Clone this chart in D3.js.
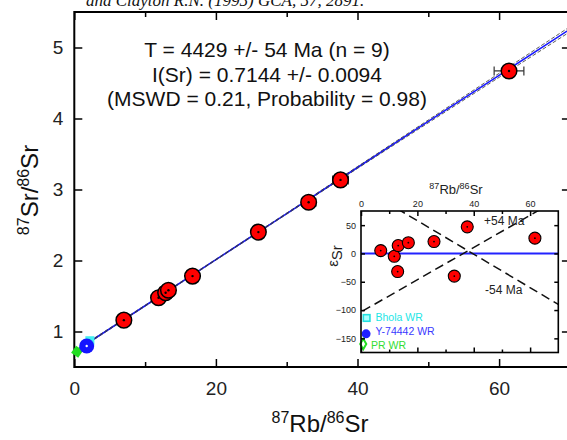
<!DOCTYPE html>
<html><head><meta charset="utf-8">
<script src="https://cdn.jsdelivr.net/npm/d3@7"></script>
<style>
body{margin:0;background:#fff}
svg{display:block;font-family:Arial,"Liberation Sans",sans-serif}
</style>
</head><body>
<svg id="c" width="567" height="440"></svg>
<script>
// ---------- data ----------
const citation = "and Clayton R.N. (1995) GCA, 57, 2891.";
const annotationLines = ["T = 4429 +/- 54 Ma (n = 9)", "I(Sr) = 0.7144 +/- 0.0094", "(MSWD = 0.21, Probability = 0.98)"];

const sampleRbSr = [7.0, 11.9, 12.9, 13.3, 16.7, 26.0, 33.1, 37.6, 61.4];
const sampleSrSr = [1.16, 1.476, 1.545, 1.58, 1.78, 2.40, 2.82, 3.135, 4.67];
const sampleRbErr = [0.3, 0.4, 0.4, 0.4, 0.5, 0.8, 1.0, 1.1, 2.1];

const insetRbSr = [7.0, 11.8, 13.0, 13.2, 16.8, 25.9, 33.1, 37.7, 61.7];
const insetEps = [5, -5, -32, 14, 19, 21, -40, 47, 27];

const wrNames = ["Bhola WR", "Y-74442 WR", "PR WR"];
const wrRbSr = [2.2, 1.75, 0.4];
const wrSrSr = [0.87, 0.795, 0.716];
const wrInsetRbSr = [2.0, 1.8, 0.8];
const wrEps = [-114, -142, -160];

const isoX = [0, 10, 20, 30, 40, 50, 60, 70];
const isoY = [0.7144, 1.3633, 2.0122, 2.6611, 3.3100, 3.9589, 4.6078, 5.2567];
const isoUpper = [0.724, 1.370, 2.018, 2.669, 3.323, 3.979, 4.636, 5.293];
const isoLower = [0.705, 1.356, 2.006, 2.653, 3.297, 3.939, 4.580, 5.221];

const refLabels = ["+54 Ma", "-54 Ma"];
const refPlusX = [0.5, 70], refPlusEps = [-102, 96];
const refMinusX = [0, 70], refMinusEps = [117, -90];

const mainXTicks = [0, 20, 40, 60], mainXMinor = [10, 30, 50];
const mainYTicks = [1, 2, 3, 4, 5];
const insetXTicks = [0, 20, 40, 60], insetXMinor = [10, 30, 50];
const insetYTicks = [50, 0, -50, -100, -150];

// ---------- drawing ----------
const svg = d3.select("#c");
svg.append("rect").attr("width", 567).attr("height", 440).attr("fill", "#fff");

const x = d3.scaleLinear().domain([0, 70]).range([74.3, 569.9]);
const y = d3.scaleLinear().domain([0.5, 5.5]).range([367, 12]);

// citation (cut at top, as in the reference)
svg.append("text").attr("x", 86).attr("y", 6)
  .attr("font-family", "'Liberation Serif','DejaVu Serif',serif").attr("font-style", "italic")
  .attr("font-size", 17).attr("fill", "#111").text(citation);

svg.append("defs").append("clipPath").attr("id", "mainclip")
  .append("rect").attr("x", x(0)).attr("y", y(5.5)).attr("width", x(70) - x(0)).attr("height", y(0.5) - y(5.5));

function styleAxis(g, fs) {
  g.select(".domain").remove();
  g.selectAll(".tick line").attr("stroke", "#000").attr("stroke-width", 1.5);
  g.selectAll("text").attr("font-size", fs).attr("font-family", "Arial,'Liberation Sans',sans-serif").attr("fill", "#222");
}
const fmt = d3.format("d");
svg.append("g").attr("transform", `translate(0,${y(0.5)})`)
  .call(d3.axisBottom(x).tickValues(mainXTicks).tickSize(-8).tickPadding(15).tickFormat(fmt)).call(g => styleAxis(g, 19));
svg.append("g").attr("transform", `translate(0,${y(0.5)})`)
  .call(d3.axisBottom(x).tickValues(mainXMinor).tickSize(-5).tickFormat("")).call(g => styleAxis(g, 19));
svg.append("g").attr("transform", `translate(0,${y(5.5)})`)
  .call(d3.axisTop(x).tickValues(mainXTicks).tickSize(-8).tickFormat("")).call(g => styleAxis(g, 19));
svg.append("g").attr("transform", `translate(0,${y(5.5)})`)
  .call(d3.axisTop(x).tickValues(mainXMinor).tickSize(-5).tickFormat("")).call(g => styleAxis(g, 19));
svg.append("g").attr("transform", `translate(${x(0)},0)`)
  .call(d3.axisLeft(y).tickValues(mainYTicks).tickSize(-8).tickPadding(11).tickFormat(fmt)).call(g => styleAxis(g, 19));
svg.append("g").attr("transform", `translate(${x(70)},0)`)
  .call(d3.axisRight(y).tickValues(mainYTicks).tickSize(-8).tickFormat("")).call(g => styleAxis(g, 19));

svg.append("rect").attr("x", x(0)).attr("y", y(5.5)).attr("width", x(70) - x(0)).attr("height", y(0.5) - y(5.5))
  .attr("fill", "none").attr("stroke", "#000").attr("stroke-width", 2);

// axis titles
const xt = svg.append("text").attr("x", 320).attr("y", 432).attr("text-anchor", "middle").attr("font-size", 24).attr("fill", "#111");
xt.append("tspan").attr("font-size", 16).attr("dy", -9).text("87");
xt.append("tspan").attr("dy", 9).text("Rb/");
xt.append("tspan").attr("font-size", 16).attr("dy", -9).text("86");
xt.append("tspan").attr("dy", 9).text("Sr");

const yt = svg.append("text").attr("transform", "translate(38,190) rotate(-90)").attr("text-anchor", "middle").attr("font-size", 24).attr("fill", "#111");
yt.append("tspan").attr("font-size", 16).attr("dy", -9).text("87");
yt.append("tspan").attr("dy", 9).text("Sr/");
yt.append("tspan").attr("font-size", 16).attr("dy", -9).text("86");
yt.append("tspan").attr("dy", 9).text("Sr");

// isochron
const main = svg.append("g").attr("clip-path", "url(#mainclip)");
const lineGen = (ys) => d3.line().x((d, i) => x(isoX[i])).y((d, i) => y(ys[i]))(isoX);
main.append("path").attr("d", lineGen(isoY)).attr("fill", "none").attr("stroke", "#1a1aff").attr("stroke-width", 1.6);
[isoUpper, isoLower].forEach(arr => {
  main.append("path").attr("d", lineGen(arr)).attr("fill", "none").attr("stroke", "#333")
    .attr("stroke-width", 1).attr("stroke-dasharray", "4,2").attr("opacity", 0.8);
});

// WR points (main, not clipped: they straddle the axis in the reference)
const wrg = svg.append("g");
wrg.append("rect").attr("x", x(wrRbSr[0]) - 4.5).attr("y", y(wrSrSr[0]) - 4.5).attr("width", 9).attr("height", 9).attr("fill", "#44f0f0");
wrg.append("path").attr("d", d3.symbol(d3.symbolSquare, 75)())
  .attr("transform", `translate(${x(wrRbSr[2])},${y(wrSrSr[2])}) rotate(35)`).attr("fill", "#22dd22");
wrg.append("circle").attr("cx", x(wrRbSr[1])).attr("cy", y(wrSrSr[1])).attr("r", 7.5).attr("fill", "#1414ff");
wrg.append("circle").attr("cx", x(wrRbSr[1])).attr("cy", y(wrSrSr[1])).attr("r", 1.2).attr("fill", "#fff");

// error bars + samples
sampleRbSr.forEach((v, i) => {
  const g = main.append("g").attr("stroke", "#333").attr("stroke-width", 1.2);
  const cy = y(sampleSrSr[i]);
  g.append("line").attr("x1", x(v - sampleRbErr[i])).attr("x2", x(v + sampleRbErr[i])).attr("y1", cy).attr("y2", cy);
  [v - sampleRbErr[i], v + sampleRbErr[i]].forEach(e =>
    g.append("line").attr("x1", x(e)).attr("x2", x(e)).attr("y1", cy - 4.5).attr("y2", cy + 4.5));
});
main.selectAll("circle.s").data(sampleRbSr).join("circle").attr("class", "s")
  .attr("cx", d => x(d)).attr("cy", (d, i) => y(sampleSrSr[i])).attr("r", 7.8)
  .attr("fill", "#ff0000").attr("stroke", "#000").attr("stroke-width", 1.5);
main.selectAll("circle.d").data(sampleRbSr).join("circle").attr("class", "d")
  .attr("cx", d => x(d)).attr("cy", (d, i) => y(sampleSrSr[i])).attr("r", 1.2).attr("fill", "#000");

// annotation
const ann = svg.append("text").attr("text-anchor", "middle").attr("font-size", 21).attr("fill", "#111");
annotationLines.forEach((t, i) => ann.append("tspan").attr("x", 267).attr("y", 57 + i * 24.5).text(t));

// ---------- inset ----------
const xi = d3.scaleLinear().domain([0, 70]).range([361, 558.3]);
const yi = d3.scaleLinear().domain([-175, 75]).range([352.5, 211]);
svg.append("rect").attr("x", xi(0)).attr("y", yi(75)).attr("width", xi(70) - xi(0)).attr("height", yi(-175) - yi(75)).attr("fill", "#fff");
svg.append("defs").append("clipPath").attr("id", "insetclip")
  .append("rect").attr("x", xi(0)).attr("y", yi(75)).attr("width", xi(70) - xi(0)).attr("height", yi(-175) - yi(75));
const ins = svg.append("g").attr("clip-path", "url(#insetclip)");

ins.append("line").attr("x1", xi(0)).attr("x2", xi(70)).attr("y1", yi(0)).attr("y2", yi(0)).attr("stroke", "#2323ff").attr("stroke-width", 2);
[[refPlusX, refPlusEps], [refMinusX, refMinusEps]].forEach(([xs, es]) => {
  ins.append("line").attr("x1", xi(xs[0])).attr("x2", xi(xs[1])).attr("y1", yi(es[0])).attr("y2", yi(es[1]))
    .attr("stroke", "#111").attr("stroke-width", 1.5).attr("stroke-dasharray", "9,5");
});

ins.selectAll("circle.s").data(insetRbSr).join("circle").attr("class", "s")
  .attr("cx", d => xi(d)).attr("cy", (d, i) => yi(insetEps[i])).attr("r", 6)
  .attr("fill", "#ff0000").attr("stroke", "#000").attr("stroke-width", 1.1);
ins.selectAll("circle.d").data(insetRbSr).join("circle").attr("class", "d")
  .attr("cx", d => xi(d)).attr("cy", (d, i) => yi(insetEps[i])).attr("r", 0.9).attr("fill", "#000");

// WR markers in inset
const wri = svg.append("g");
wri.append("rect").attr("x", xi(wrInsetRbSr[0]) - 3.3).attr("y", yi(wrEps[0]) - 3.3).attr("width", 6.6).attr("height", 6.6)
  .attr("fill", "#aaffff").attr("stroke", "#22e0e0").attr("stroke-width", 1.6);
wri.append("circle").attr("cx", xi(wrInsetRbSr[1])).attr("cy", yi(wrEps[1])).attr("r", 4.5).attr("fill", "#1f1fff");
wri.append("path").attr("d", d3.symbol(d3.symbolDiamond, 32)())
  .attr("transform", `translate(${xi(wrInsetRbSr[2])},${yi(wrEps[2])})`).attr("fill", "#fff").attr("stroke", "#22dd22").attr("stroke-width", 2);

const wrCols = ["#22e6e6", "#3a3aff", "#33dd33"];
const wrLabelX = [375.5, 375.5, 371];
const wrLabelDy = [3, 1.5, 4.5];
wrNames.forEach((n, i) => svg.append("text").attr("x", wrLabelX[i]).attr("y", yi(wrEps[i]) + wrLabelDy[i])
  .attr("font-size", 10.5).attr("fill", wrCols[i]).text(n));

svg.append("text").attr("x", 484).attr("y", 225).attr("font-size", 12).attr("fill", "#222").text(refLabels[0]);
svg.append("text").attr("x", 485).attr("y", 294).attr("font-size", 12).attr("fill", "#222").text(refLabels[1]);

// inset axes
svg.append("g").attr("transform", `translate(0,${yi(75)})`)
  .call(d3.axisTop(xi).tickValues(insetXTicks).tickSize(-5).tickPadding(4).tickFormat(fmt)).call(g => styleAxis(g, 9));
svg.append("g").attr("transform", `translate(0,${yi(75)})`)
  .call(d3.axisTop(xi).tickValues(insetXMinor).tickSize(-3).tickFormat("")).call(g => styleAxis(g, 9));
svg.append("g").attr("transform", `translate(0,${yi(-175)})`)
  .call(d3.axisBottom(xi).tickValues(insetXTicks).tickSize(-5).tickFormat("")).call(g => styleAxis(g, 9));
svg.append("g").attr("transform", `translate(0,${yi(-175)})`)
  .call(d3.axisBottom(xi).tickValues(insetXMinor).tickSize(-3).tickFormat("")).call(g => styleAxis(g, 9));
svg.append("g").attr("transform", `translate(${xi(0)},0)`)
  .call(d3.axisLeft(yi).tickValues(insetYTicks).tickSize(-4).tickPadding(5).tickFormat(fmt)).call(g => styleAxis(g, 9));
svg.append("g").attr("transform", `translate(${xi(70)},0)`)
  .call(d3.axisRight(yi).tickValues(insetYTicks).tickSize(-4).tickFormat("")).call(g => styleAxis(g, 9));
svg.append("rect").attr("x", xi(0)).attr("y", yi(75)).attr("width", xi(70) - xi(0)).attr("height", yi(-175) - yi(75))
  .attr("fill", "none").attr("stroke", "#000").attr("stroke-width", 1.6);

// inset titles
const it = svg.append("text").attr("x", 456).attr("y", 194).attr("text-anchor", "middle").attr("font-size", 13).attr("fill", "#222");
it.append("tspan").attr("font-size", 9).attr("dy", -5).text("87");
it.append("tspan").attr("dy", 5).text("Rb/");
it.append("tspan").attr("font-size", 9).attr("dy", -5).text("86");
it.append("tspan").attr("dy", 5).text("Sr");

const et = svg.append("text").attr("transform", "translate(338,256) rotate(-90)").attr("text-anchor", "middle").attr("font-size", 15).attr("fill", "#222");
et.append("tspan").text("ε");
et.append("tspan").attr("dy", 4).text("Sr");
</script>
</body></html>
